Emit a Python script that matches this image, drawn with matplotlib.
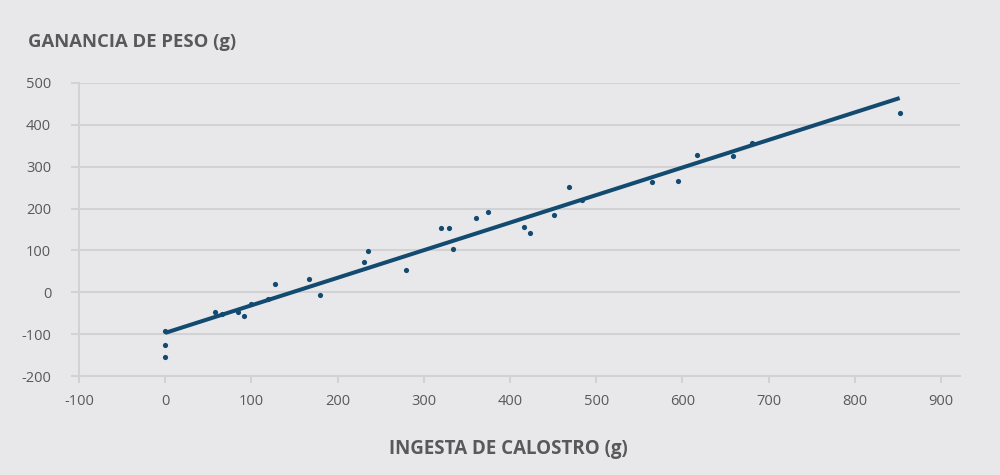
import matplotlib
matplotlib.use("Agg")
import matplotlib.pyplot as plt

# data
calostro = [0, 0, 0, 58, 66, 84, 91, 100, 119, 127, 167, 179, 231, 235, 279,
            320, 329, 334, 360, 375, 416, 423, 451, 469, 484, 565, 595, 617,
            659, 681, 852]
ganancia = [-93, -127, -155, -47, -53, -47, -57, -27, -17, 19, 31, -7, 72, 99, 54,
            154, 154, 104, 177, 191, 155, 141, 184, 252, 220, 263, 266, 329,
            325, 357, 429]
trend_x = [0, 852]
trend_y = [-97, 464]
x_ticks = [-100, 0, 100, 200, 300, 400, 500, 600, 700, 800, 900]
y_ticks = [-200, -100, 0, 100, 200, 300, 400, 500]

bg = '#e8e8ea'
grid_c = '#d2d2d4'
text_c = '#595959'
blue = '#124a70'

plt.rcParams['font.family'] = ['Open Sans', 'DejaVu Sans']
plt.rcParams['axes.unicode_minus'] = False

fig = plt.figure(figsize=(10, 4.75), dpi=100, facecolor=bg)
ax = fig.add_axes([0.079, 0.2084, 0.881, 0.6169], facecolor=bg)

ax.plot(trend_x, trend_y, color=blue, linewidth=2.9, solid_capstyle='butt', zorder=3)
ax.scatter(calostro, ganancia, s=14, color=blue, zorder=4, linewidths=0)

ax.set_xlim(-100, 922)
ax.set_ylim(-200, 500)
ax.set_xticks(x_ticks)
ax.set_yticks(y_ticks)

ax.grid(axis='y', color=grid_c, linewidth=1.5)
ax.set_axisbelow(True)
for s in ['top', 'right']:
    ax.spines[s].set_visible(False)
ax.spines['left'].set_color(grid_c)
ax.spines['left'].set_linewidth(1.5)
ax.spines['bottom'].set_color(grid_c)
ax.spines['bottom'].set_linewidth(1.5)

ax.tick_params(axis='y', length=6, width=1.5, color=grid_c, labelcolor=text_c,
               labelsize=10.5, pad=14)
ax.tick_params(axis='x', length=5, width=1.5, color=grid_c, labelcolor=text_c,
               labelsize=10.5, pad=8)

fig.text(0.028, 0.912, 'GANANCIA DE PESO (g)', color=text_c, fontsize=13.3,
         fontweight='bold', ha='left', va='center')
fig.text(0.508, 0.055, 'INGESTA DE CALOSTRO (g)', color=text_c, fontsize=13.5,
         fontweight='bold', ha='center', va='center')

fig.savefig('out.png', dpi=100, facecolor=bg)
